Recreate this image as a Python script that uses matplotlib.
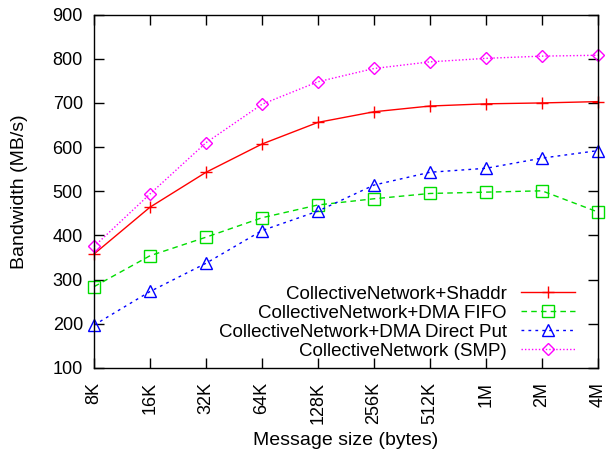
import numpy as np
import matplotlib.pyplot as plt

plt.rcParams['font.family'] = ['Liberation Sans', 'DejaVu Sans']

sizes = ['8K', '16K', '32K', '64K', '128K', '256K', '512K', '1M', '2M', '4M']
shaddr = [358, 464, 543, 607, 656, 680, 693, 698, 700, 703]
dma_fifo = [284, 354, 396, 440, 469, 483, 495, 498, 501, 453]
direct_put = [197, 273, 337, 411, 455, 514, 543, 552, 575, 592]
smp = [375, 494, 610, 697, 748, 778, 793, 801, 806, 808]

x = np.arange(len(sizes))

fig = plt.figure(figsize=(6.07, 4.57), dpi=100)
ax = fig.add_axes([0.155, 0.195, 0.83, 0.773])

ax.plot(x, shaddr, color='#ff0000', linestyle='-', linewidth=1.0, marker='+',
        markersize=9, markeredgewidth=1.0, clip_on=False,
        label='CollectiveNetwork+Shaddr')
ax.plot(x, dma_fifo, color='#00dd00', linestyle=(0, (4, 3)), linewidth=1.0, marker='s',
        markersize=8.5, markerfacecolor='none', markeredgewidth=1.0, clip_on=False,
        label='CollectiveNetwork+DMA FIFO')
ax.plot(x, direct_put, color='#0000ff', linestyle=(0, (2, 3)), linewidth=1.0, marker='^',
        markersize=8.5, markerfacecolor='none', markeredgewidth=1.0, clip_on=False,
        label='CollectiveNetwork+DMA Direct Put')
ax.plot(x, smp, color='#ff00ff', linestyle=(0, (1, 1.5)), linewidth=1.0, marker='D',
        markersize=6.5, markerfacecolor='none', markeredgewidth=1.0, clip_on=False,
        label='CollectiveNetwork (SMP)')

ax.set_xlim(0, len(sizes) - 1)
ax.set_ylim(100, 900)
ax.set_xticks(x)
ax.set_xticklabels(sizes, rotation=90, fontsize=13)
ax.set_yticks(np.arange(100, 901, 100))
ax.tick_params(axis='y', labelsize=13, pad=8)
ax.tick_params(axis='x', pad=10)
ax.tick_params(direction='in', top=True, right=True, length=7, width=1.0)
for s in ax.spines.values():
    s.set_linewidth(1.0)

ax.set_xlabel('Message size (bytes)', fontsize=14, labelpad=6)
ax.set_ylabel('Bandwidth (MB/s)', fontsize=14, labelpad=18)

leg = ax.legend(loc='lower right', bbox_to_anchor=(0.977, -0.009), frameon=False,
                markerfirst=False, fontsize=13.5, handlelength=2.9, handletextpad=0.75,
                labelspacing=0.1, borderaxespad=0.2)
for t in leg.get_texts():
    t.set_ha('right')
leg._legend_box.align = 'right'

fig.savefig('out.png', dpi=100)
